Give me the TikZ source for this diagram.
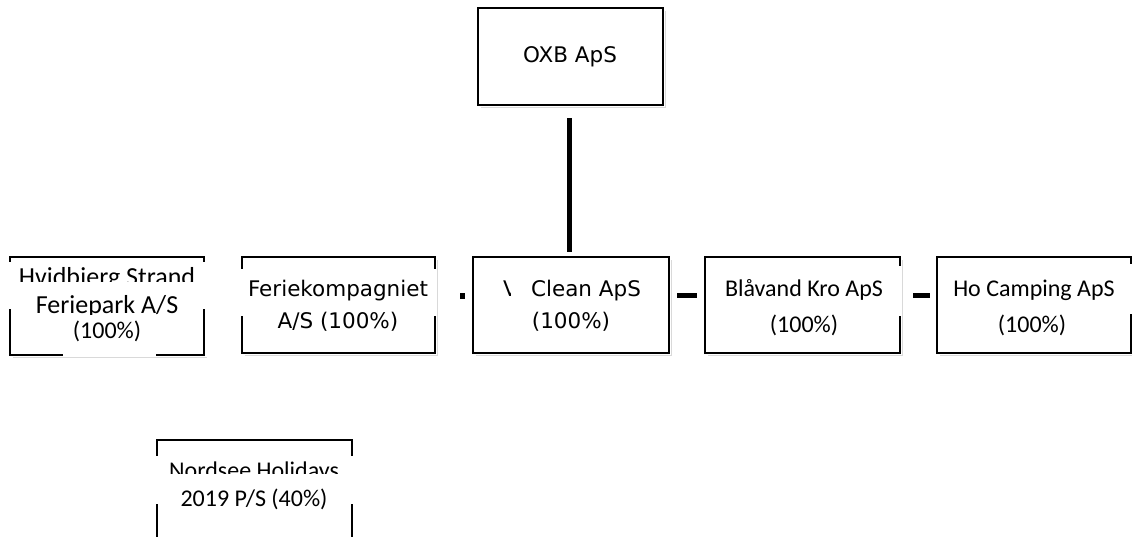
\documentclass[tikz,border=0pt]{standalone}
\usepackage{fontspec}
\newfontfamily\dvfont{DejaVu Sans}
\newfontfamily\cbfont{Carlito}
\usetikzlibrary{calc}
\begin{document}
\begin{tikzpicture}[x=1pt,y=-1pt,
  border/.style={line width=2pt, line cap=rect},
  shade/.style={line width=1.5pt, gray!30},
  link/.style={line width=5.5pt},
  boxarea/.style={rectangle, inner sep=0, minimum height=96},
  dvtxt/.style={inner sep=0, anchor=base, font=\dvfont\fontsize{21.5}{25}\selectfont},
  cbtxt/.style={inner sep=0, anchor=base, font=\cbfont\fontsize{24}{28}\selectfont},
  cbbig/.style={inner sep=0, anchor=base, text depth=0pt, text height=16pt, font=\cbfont\fontsize{26}{30}\selectfont}]
\useasboundingbox (0,0) rectangle (1132,537);

% box areas
\node[boxarea, minimum width=185, minimum height=97] (oxb) at (570.5,56.5) {};
\node[boxarea, minimum width=194, minimum height=98] (hv) at (107,306) {};
\node[boxarea, minimum width=193] (fk) at (338.5,305) {};
\node[boxarea, minimum width=196] (cl) at (571,305) {};
\node[boxarea, minimum width=195] (bl) at (802.5,305) {};
\node[boxarea, minimum width=194] (ho) at (1034,305) {};
\node[boxarea, minimum width=195, minimum height=104] (ns) at (254.5,492) {};

% faint shadows
\foreach \b in {oxb,fk,cl,bl,ho}{
  \draw[shade] ($(\b.south west)+(3,2.5)$) -- ($(\b.south east)+(2.5,2.5)$) -- ($(\b.north east)+(2.5,3)$);
}
\draw[shade] ($(hv.south west)+(3,2.5)$) -- ($(hv.south east)+(2.5,2.5)$);

% borders
\draw[border] (oxb.north west) rectangle (oxb.south east);
\draw[border] (cl.north west) rectangle (cl.south east);
% Hvidbjerg
\draw[border] (10,261) -- (10,257) -- (204,257) -- (204,261);
\draw[border] (10,310) -- (10,355) -- (62,355);
\draw[border] (157,355) -- (204,355) -- (204,310);
% Feriekompagniet
\draw[border] (242,268) -- (242,257) -- (435,257) -- (435,268);
\draw[border] (242,317) -- (242,353) -- (435,353) -- (435,317);
% Blaavand
\draw[border] (900,265) -- (900,257) -- (705,257) -- (705,353) -- (900,353) -- (900,317);
% Ho Camping
\draw[border] (1131,263) -- (1131,257) -- (937,257) -- (937,353) -- (1131,353) -- (1131,315);
% Nordsee
\draw[border] (157,455) -- (157,440) -- (352,440) -- (352,455);
\draw[border] (157,505) -- (157,545);
\draw[border] (352,505) -- (352,545);

% connectors
\draw[link] ($(oxb.south)+(-1,13)$) -- ($(oxb.south |- cl.north)+(-1,-5)$);
\draw[link] ($(fk.east)+(25,-9)$) -- ($(cl.west)+(-8,-9)$);
\draw[link] ($(cl.east)+(8,-9.5)$) -- ($(bl.west)+(-8,-9.5)$);
\draw[link] ($(bl.east)+(13,-9.5)$) -- ($(ho.west)+(-7,-9.5)$);

% texts
\node[dvtxt] (toxb) at (570,63) {OXB ApS};
\node[dvtxt] (tfk1) at (338,297) {Feriekompagniet};
\node[dvtxt] (tfk2) at (338,328) {A/S (100\%)};
\begin{scope}
  \clip (495,270) rectangle (510,300);
  \node[dvtxt, anchor=base west] (tclv) at (503,297) {V};
\end{scope}
\node[dvtxt] (tcl1) at (586,297) {Clean ApS};
\node[dvtxt] (tcl2) at (571,328) {(100\%)};
\node[cbtxt] (tbl1) at (804,297) {Blåvand Kro ApS};
\node[cbtxt] (tbl2) at (804,332) {(100\%)};
\node[cbtxt] (tho1) at (1034,297) {Ho Camping ApS};
\node[cbtxt] (tho2) at (1032,332) {(100\%)};
\begin{scope}
  \clip (0,262) rectangle (230,282);
  \node[cbbig] (thv1) at (107,286) {Hvidbjerg Strand};
\end{scope}
\begin{scope}
  \clip (0,284) rectangle (230,314);
  \node[cbbig] (thv2) at (107,313) {Feriepark A/S};
\end{scope}
\node[cbtxt] (thv3) at (107,338) {(100\%)};
\begin{scope}
  \clip (140,455) rectangle (370,473);
  \node[cbtxt, text depth=0pt] (tns1) at (254,478) {Nordsee Holidays};
\end{scope}
\node[cbtxt] (tns2) at (254,506) {2019 P/S (40\%)};
\end{tikzpicture}
\end{document}
